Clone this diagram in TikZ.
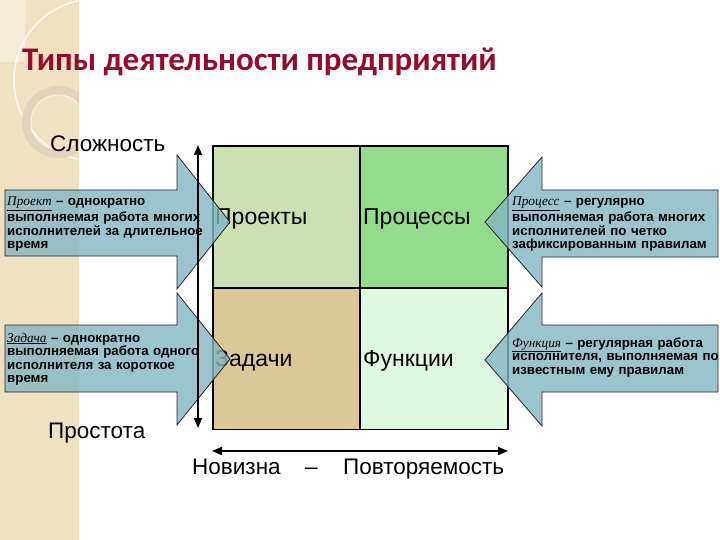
\documentclass[tikz,border=0pt]{standalone}
\usepackage{fontspec}
\setmainfont{Liberation Sans}
\newfontfamily\titlefont{Carlito}
\newfontfamily\serifit{Liberation Serif}
\usetikzlibrary{arrows.meta}
\definecolor{strip}{RGB}{239,225,193}
\definecolor{stripl}{RGB}{245,236,215}
\definecolor{ringc}{RGB}{224,213,186}
\definecolor{titlec}{RGB}{150,10,45}
\definecolor{ctl}{RGB}{204,224,180}
\definecolor{ctr}{RGB}{146,220,140}
\definecolor{cbl}{RGB}{220,200,150}
\definecolor{cbr}{RGB}{222,249,222}
\definecolor{arrfill}{RGB}{132,182,196}
\tikzset{
  cellbox/.style={draw=black, line width=1.6pt, minimum width=148, minimum height=141.5, anchor=north west, inner sep=0},
  celltext/.style={anchor=base west, inner sep=0, font=\fontsize{23}{23}\selectfont},
  axistext/.style={anchor=base west, inner sep=0, font=\fontsize{22.5}{23}\selectfont},
  blockarrow/.style={fill=arrfill, fill opacity=0.8, draw=black!85, line width=0.8pt},
  smalltext/.style={anchor=base west, inner sep=0, align=left, text width=215pt, font=\fontsize{13.3}{13.5}\selectfont\bfseries},
  axisarrow/.style={line width=1.8pt, {Triangle[length=10pt,width=8pt]}-{Triangle[length=10pt,width=8pt]}}
}
\newcommand{\kw}[1]{\underline{\serifit\mdseries\itshape #1}}
\begin{document}
\begin{tikzpicture}[x=1pt,y=-1pt]
\useasboundingbox (0,0) rectangle (720,540);
\fill[white] (0,0) rectangle (720,540);
% decorative strip
\fill[strip] (0,0) rectangle (79,540);
\begin{scope}
\clip (0,0) rectangle (79,540);
\fill[stripl] (0,0) rectangle (25,62);
\draw[white, opacity=0.8, line width=1.5pt] (95,80) circle (81);
\draw[ringc, line width=8pt] (58,122) circle (32);
\draw[white, opacity=0.5, line width=1pt] (58,122) circle (27);
\end{scope}
% title
\node[anchor=base west, inner sep=0, text=titlec, font=\titlefont\bfseries\fontsize{33}{33}\selectfont] (title) at (22,71) {Типы деятельности предприятий};
% grid
\node[cellbox, fill=ctl] (tl) at (212,145) {};
\node[cellbox, fill=ctr] (tr) at (359,145) {};
\node[cellbox, fill=cbl] (bl) at (212,287) {};
\node[cellbox, fill=cbr] (br) at (359,287) {};
\node[celltext] (proj) at (215,225) {Проекты};
\node[celltext] (proc) at (363,225) {Процессы};
\node[celltext] (zad) at (215,366) {Задачи};
\node[celltext] (func) at (363,366) {Функции};
% block arrows
\draw[blockarrow] (5,190) -- (177,190) -- (177,155) -- (230,222) -- (177,289) -- (177,256) -- (5,256) -- cycle;
\draw[blockarrow] (5,325) -- (177,325) -- (177,293) -- (230,359) -- (177,425) -- (177,392) -- (5,392) -- cycle;
\draw[blockarrow] (718,190) -- (542,190) -- (542,157) -- (485,222) -- (542,287) -- (542,257) -- (718,257) -- cycle;
\draw[blockarrow] (718,325) -- (542,325) -- (542,293) -- (485,360) -- (542,426) -- (542,392) -- (718,392) -- cycle;
\node[smalltext] (tproj) at (7,206) {\kw{Проект} – однократно\\выполняемая работа многих\\исполнителей за длительное\\время};
\node[smalltext] (tzad) at (7,342) {\kw{Задача} – однократно\\выполняемая работа одного\\исполнителя за короткое\\время};
\node[smalltext] (tproc) at (512,206) {\kw{Процесс} – регулярно\\выполняемая работа многих\\исполнителей по четко\\зафиксированным правилам};
\node[smalltext] (tfunc) at (512,347) {\kw{Функция} – регулярная работа\\исполнителя, выполняемая по\\известным ему правилам};
% axes
\coordinate (vtop) at (198,145);
\coordinate (vbot) at (198,428);
\coordinate (hl) at (212,451);
\coordinate (hr) at (508,451);
\draw[axisarrow] (vbot) -- (vtop);
\draw[axisarrow] (hl) -- (hr);
\node[axistext] (slozh) at (50,152) {Сложность};
\node[axistext] (prost) at (48,438) {Простота};
\node[axistext] (nov) at (192,474) {Новизна};
\node[axistext] (dash) at (305,474) {–};
\node[axistext] (povt) at (343,474) {Повторяемость};
\end{tikzpicture}
\end{document}
